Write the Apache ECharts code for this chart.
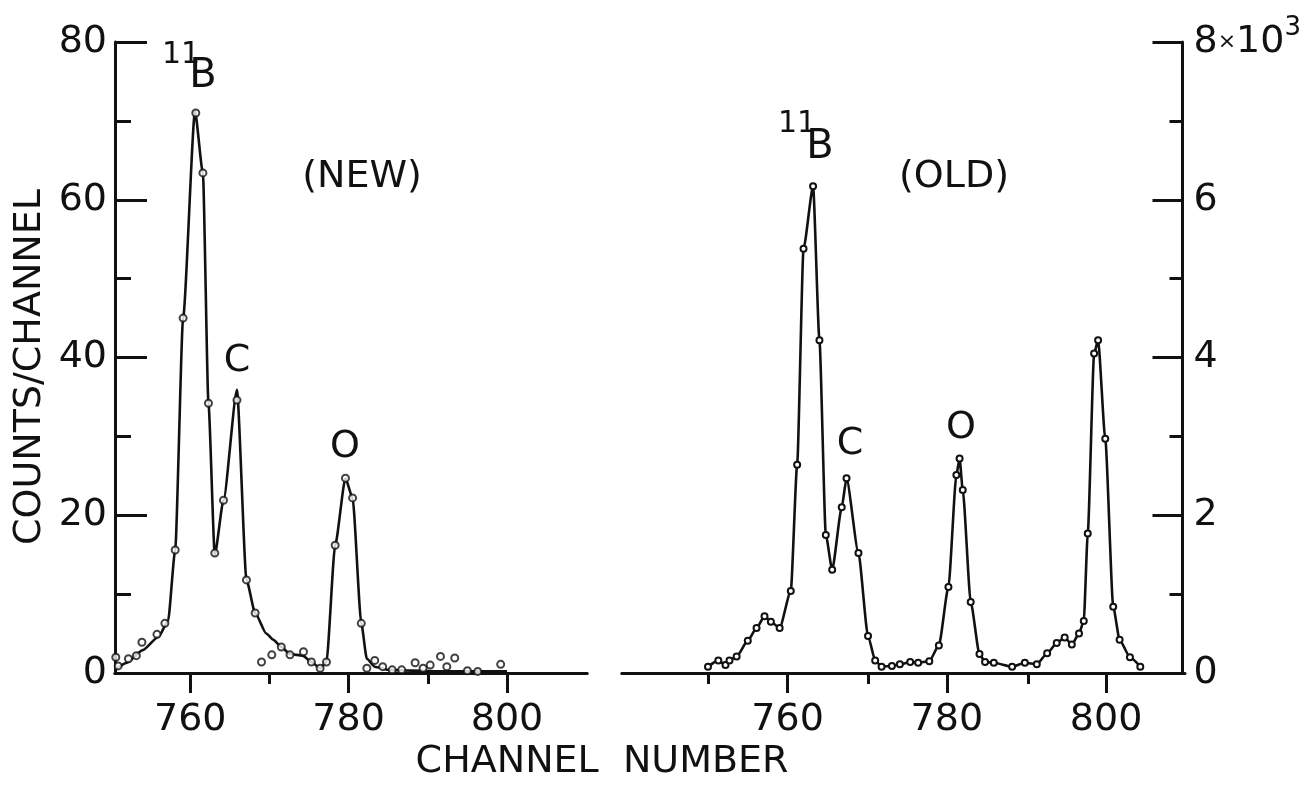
<!DOCTYPE html>
<html><head><meta charset="utf-8">
<script src="https://cdn.jsdelivr.net/npm/echarts@6/dist/echarts.min.js"></script>
<style>html,body{margin:0;padding:0;background:#fff}#c{width:1304px;height:790px}</style>
</head><body><div id="c"></div>
<script>
// ---- data ----
// (NEW) fitted curve: [channel, counts/channel]
const newFit = [
  [750.5,0.4],[752,1.3],[754,2.9],[756,4.6],[757.2,6.6],[758.1,15.6],[759.1,45],[760.6,71.2],
  [761.6,63.4],[762.3,34.2],[763.1,15.0],[764.2,21.9],[765.9,35.9],[767.1,11.8],[768.2,7.6],
  [769.6,5.0],[770.5,4.2],[771.5,3.3],[772.6,2.4],[774.2,2.2],[775.3,1.4],[776.4,0.6],[777.2,1.4],
  [778.3,16.2],[779.6,24.7],[780.5,22.2],[781.6,6.3],[782.3,1.8],[783.3,0.8],[785,0.4],
  [788,0.3],[792,0.2],[796,0.2],[800,0.2]
];
// (NEW) measured points
const newCounts = [
  [750.6,2.0],[750.9,0.9],[752.2,1.8],[753.2,2.2],[753.9,3.9],[755.8,4.9],[756.8,6.3],[758.1,15.6],
  [759.1,45.0],[760.7,71.0],[761.6,63.4],[762.3,34.2],[763.1,15.2],[764.2,21.9],[765.9,34.6],
  [767.1,11.8],[768.2,7.6],[769.0,1.4],[770.3,2.3],[771.5,3.3],[772.6,2.3],[774.3,2.7],[775.3,1.4],
  [776.4,0.6],[777.2,1.4],[778.3,16.2],[779.6,24.7],[780.5,22.2],[781.6,6.3],[782.3,0.6],
  [783.3,1.6],[784.3,0.8],[785.5,0.4],[786.7,0.4],[788.4,1.3],[789.4,0.6],[790.3,1.0],[791.6,2.1],
  [792.4,0.8],[793.4,1.9],[795.0,0.3],[796.3,0.2],[799.2,1.1]
];
// (OLD) counts in thousands: [channel, counts/1000]
const oldCounts = [
  [750.0,0.08],[751.3,0.16],[752.2,0.10],[752.7,0.16],[753.6,0.21],[755.0,0.41],[756.1,0.57],
  [757.1,0.72],[757.9,0.65],[759.0,0.57],[760.4,1.04],[761.2,2.64],[762.0,5.38],[763.2,6.17],
  [764.0,4.22],[764.8,1.75],[765.6,1.31],[766.8,2.10],[767.4,2.47],[768.9,1.52],[770.1,0.47],
  [771.0,0.16],[771.8,0.08],[773.1,0.09],[774.1,0.11],[775.4,0.14],[776.4,0.13],[777.8,0.15],
  [779.0,0.35],[780.2,1.09],[781.2,2.51],[781.6,2.72],[782.0,2.32],[783.0,0.90],[784.1,0.24],
  [784.8,0.14],[785.9,0.13],[788.2,0.08],[789.8,0.13],[791.3,0.11],[792.6,0.25],[793.8,0.38],
  [794.8,0.45],[795.7,0.36],[796.6,0.50],[797.2,0.66],[797.7,1.77],[798.5,4.05],[799.0,4.22],
  [799.9,2.97],[800.9,0.84],[801.7,0.42],[803.0,0.20],[804.3,0.08]
];
const xMajorTicks = [760, 780, 800];
const newMinorTicks = [770, 790];
const oldMinorTicks = [750, 770, 790];

const FONT = 'DejaVu Sans';
const BLACK = '#111';
const NEW_RANGE = [750.5, 810.1];
const OLD_RANGE = [739.2, 809.6];

function xMain(gridIndex, range) {
  return {
    type: 'value', gridIndex, min: range[0], max: range[1], position: 'bottom',
    axisLine: { show: true, onZero: false, lineStyle: { color: BLACK, width: 3 } },
    axisTick: { show: true, length: 20, customValues: xMajorTicks, lineStyle: { color: BLACK, width: 3 } },
    axisLabel: { show: true, customValues: xMajorTicks, margin: 28, fontSize: 38, fontFamily: FONT, color: BLACK },
    splitLine: { show: false }
  };
}
function xMinor(gridIndex, range, ticks) {
  return {
    type: 'value', gridIndex, min: range[0], max: range[1], position: 'bottom',
    axisLine: { show: true, onZero: false, lineStyle: { color: BLACK, width: 3 } },
    axisTick: { show: true, length: 11, customValues: ticks, lineStyle: { color: BLACK, width: 3 } },
    axisLabel: { show: false, customValues: ticks },
    splitLine: { show: false }
  };
}
function hiddenY(gridIndex) {
  return { type: 'value', gridIndex, min: 0, max: 1, show: false, splitLine: { show: false } };
}
function label(text, x, y, size) {
  return { type: 'text', x, y, style: { text, fontSize: size, fontFamily: FONT, fill: BLACK, align: 'center', verticalAlign: 'middle' } };
}

const option = {
  animation: false,
  backgroundColor: '#fff',
  grid: [
    { left: 115, top: 42, width: 472, height: 631 },
    { left: 622, top: 42, width: 563, height: 631 },
    { left: 115, top: 42, width: 472, height: 631 },
    { left: 622, top: 42, width: 563, height: 631 }
  ],
  xAxis: [
    xMain(0, NEW_RANGE),
    xMain(1, OLD_RANGE),
    xMinor(2, NEW_RANGE, newMinorTicks),
    xMinor(3, OLD_RANGE, oldMinorTicks)
  ],
  yAxis: [
    {
      type: 'value', gridIndex: 0, min: 0, max: 80, interval: 20, position: 'left',
      axisLine: { show: true, onZero: false, lineStyle: { color: BLACK, width: 3 } },
      axisTick: { show: true, inside: true, length: 32, lineStyle: { color: BLACK, width: 3 } },
      minorTick: { show: true, splitNumber: 2, length: 16, lineStyle: { color: BLACK, width: 3 } },
      axisLabel: { margin: 8, fontSize: 38, fontFamily: FONT, color: BLACK },
      splitLine: { show: false }, minorSplitLine: { show: false }
    },
    {
      type: 'value', gridIndex: 1, min: 0, max: 8, interval: 2, position: 'right',
      axisLine: { show: true, onZero: false, lineStyle: { color: BLACK, width: 3 } },
      axisTick: { show: true, inside: true, length: 30, lineStyle: { color: BLACK, width: 3 } },
      minorTick: { show: true, splitNumber: 2, length: 13, lineStyle: { color: BLACK, width: 3 } },
      axisLabel: {
        margin: 11, fontSize: 38, fontFamily: FONT, color: BLACK,
        formatter: v => v === 8 ? '8{x|×}10{s|3}' : String(v),
        rich: {
          x: { fontSize: 22, fontFamily: FONT, color: BLACK },
          s: { fontSize: 26, fontFamily: FONT, color: BLACK, padding: [0, 0, 28, 0] }
        }
      },
      splitLine: { show: false }, minorSplitLine: { show: false }
    },
    hiddenY(2),
    hiddenY(3)
  ],
  series: [
    {
      name: 'NEW fit', type: 'line', xAxisIndex: 0, yAxisIndex: 0, data: newFit,
      showSymbol: false, smooth: 0.2, smoothMonotone: 'x',
      lineStyle: { color: BLACK, width: 2.6 }, z: 2
    },
    {
      name: 'NEW', type: 'scatter', xAxisIndex: 0, yAxisIndex: 0, data: newCounts,
      symbol: 'circle', symbolSize: 7,
      itemStyle: { color: '#fff', borderColor: BLACK, borderWidth: 2 }, z: 3
    },
    {
      name: 'OLD', type: 'line', xAxisIndex: 1, yAxisIndex: 1, data: oldCounts,
      showSymbol: true, symbol: 'circle', symbolSize: 6, smooth: 0.2, smoothMonotone: 'x',
      lineStyle: { color: BLACK, width: 2.6 },
      itemStyle: { color: '#fff', borderColor: BLACK, borderWidth: 2 }, z: 3
    }
  ],
  graphic: [
    { type: 'text', x: 30, y: 367, rotation: Math.PI / 2,
      style: { text: 'COUNTS/CHANNEL', fontSize: 38, fontFamily: FONT, fill: BLACK, align: 'center', verticalAlign: 'middle' } },
    label('CHANNEL  NUMBER', 602, 762, 38),
    label('11', 181, 55, 30),
    label('B', 203, 77, 40),
    label('11', 797, 124, 30),
    label('B', 820, 148, 40),
    label('(NEW)', 362, 177, 38),
    label('(OLD)', 954, 177, 38),
    label('C', 237, 361, 38),
    label('O', 345, 447, 38),
    label('C', 850, 444, 38),
    label('O', 961, 428, 38)
  ]
};
const chart = echarts.init(document.getElementById('c'), null, { renderer: 'canvas' });
chart.setOption(option);
</script>
</body></html>
